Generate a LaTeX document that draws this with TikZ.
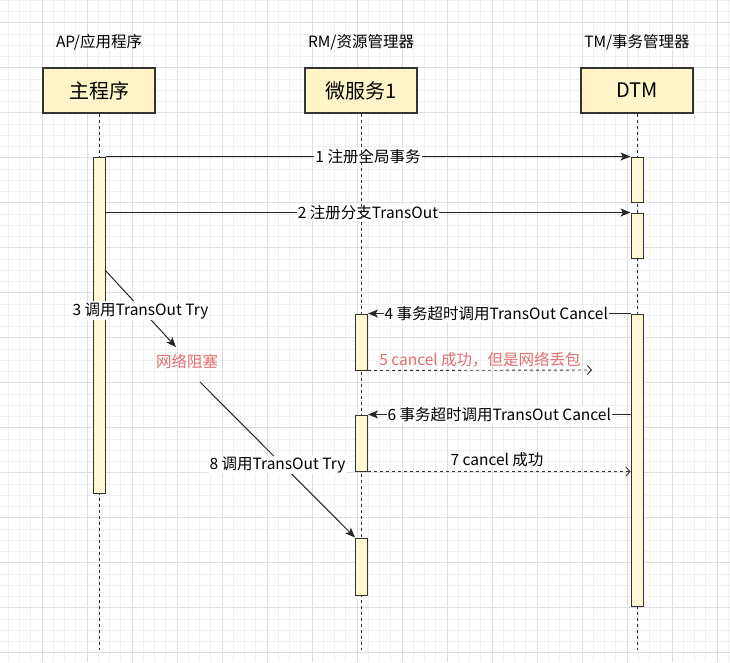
\documentclass[tikz,border=0pt]{standalone}
\usepackage{fontspec}
\setmainfont{Noto Sans CJK SC}
\usetikzlibrary{arrows.meta}
\definecolor{boxfill}{RGB}{255,245,200}
\definecolor{actfill}{RGB}{255,248,208}
\definecolor{edge}{RGB}{51,51,51}
\definecolor{redtxt}{RGB}{226,110,110}
\definecolor{gridminor}{RGB}{240,240,240}
\definecolor{gridmajor}{RGB}{222,222,222}
\tikzset{
  actor/.style={draw=edge, line width=1.2pt, fill=boxfill, minimum width=112pt, minimum height=45pt, inner sep=0pt, font=\fontsize{20}{22}\selectfont},
  head/.style={font=\fontsize{15.5}{17}\selectfont, inner sep=0pt},
  act/.style={draw=edge, line width=1pt, fill=actfill, minimum width=12pt, inner sep=0pt},
  life/.style={draw=edge, line width=1pt, dash pattern=on 3pt off 3pt},
  msg/.style={draw=black!85, line width=1pt, -{Stealth[length=10pt,width=8pt,inset=2.5pt]}},
  reply/.style={draw=edge, line width=0.9pt, dash pattern=on 3pt off 3pt, -{Straight Barb[length=4pt,width=9pt]}},
  lbl/.style={fill=white, inner sep=1pt, font=\fontsize{15.5}{17}\selectfont},
  rlbl/.style={inner sep=1pt, font=\fontsize{15.5}{17}\selectfont, text=redtxt},
}
\begin{document}
\begin{tikzpicture}[x=1pt, y=-1pt]
\useasboundingbox (0,0) rectangle (730,662);
\fill[white] (0,0) rectangle (730,662);
% grid
\foreach \i in {0,...,65} {
  \draw[gridminor, line width=0.6pt] ({-3+11.25*\i},0) -- ({-3+11.25*\i},662);
}
\foreach \i in {0,...,59} {
  \draw[gridminor, line width=0.6pt] (0,{0.2+11.25*\i}) -- (730,{0.2+11.25*\i});
}
\foreach \i in {0,...,16} {
  \draw[gridmajor, line width=0.7pt] ({-3+45*\i},0) -- ({-3+45*\i},662);
}
\foreach \i in {0,...,14} {
  \draw[gridmajor, line width=0.7pt] (0,{22.7+45*\i}) -- (730,{22.7+45*\i});
}
% headers
\node[head] (hap) at (99,42) {AP/应用程序};
\node[head] (hrm) at (361,42) {RM/资源管理器};
\node[head] (htm) at (637,42) {TM/事务管理器};
% actor boxes
\node[actor] (ap) at (99,90.5) {主程序};
\node[actor] (rm) at (361,90.5) {微服务1};
\node[actor] (tm) at (637,90.5) {DTM};
% lifeline ends
\coordinate (apend) at (99,650);
\coordinate (rmend) at (361,650);
\coordinate (tmend) at (637,650);
\draw[life] (ap.south) -- (apend);
\draw[life] (rm.south) -- (rmend);
\draw[life] (tm.south) -- (tmend);
% activations
\node[act, minimum height=336pt] (a1) at (99,325) {};
\node[act, minimum height=45pt] (d1) at (637,179.5) {};
\node[act, minimum height=45pt] (d2) at (637,235.5) {};
\node[act, minimum height=292pt] (d3) at (637,460) {};
\node[act, minimum height=56pt] (r1) at (361.5,342) {};
\node[act, minimum height=56pt] (r2) at (361.5,443) {};
\node[act, minimum height=57pt] (r3) at (361.5,566.5) {};
% messages
\draw[msg] (a1.north east) -- (d1.north west) node[lbl, midway] (l1) {1 注册全局事务};
\draw[msg] (a1.east |- d2.north) -- (d2.north west) node[lbl, midway] (l2) {2 注册分支TransOut};
\coordinate (s3) at (105,270);
\coordinate (e3) at (176,347);
\draw[msg] (s3) -- (e3) node[lbl, midway, yshift=-2pt] (l3) {3 调用TransOut Try};
\node[rlbl] (net) at (187,361) {网络阻塞};
\draw[msg] (d3.north west) -- (r1.north east) node[lbl, midway, xshift=-3pt] (l4) {4 事务超时调用TransOut Cancel};
\coordinate (e5) at (592,370);
\draw[reply] (r1.south east) -- (e5);
\node[rlbl, anchor=south] (l5) at (480,368) {5 cancel 成功，但是网络丢包};
\draw[msg] (d3.west |- r2.north) -- (r2.north east) node[lbl, midway] (l6) {6 事务超时调用TransOut Cancel};
\draw[reply] (r2.south east) -- (d3.west |- r2.south);
\node[inner sep=1pt, font=\fontsize{15.5}{17}\selectfont, anchor=south] (l7) at (497,468) {7 cancel 成功};
\coordinate (s8) at (200,382);
\draw[msg] (s8) -- (r3.north west) node[lbl, midway, yshift=-5pt] (l8) {8 调用TransOut Try};
% lifelines over labels
\draw[life] (361,150) -- (361,225);
\end{tikzpicture}
\end{document}
